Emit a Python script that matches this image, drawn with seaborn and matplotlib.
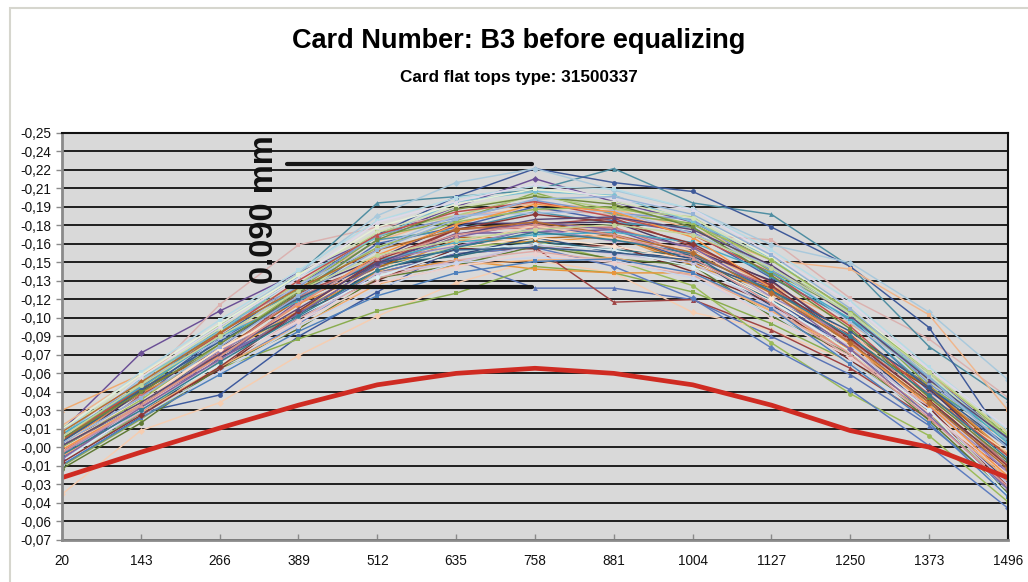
import numpy as np
import pandas as pd
import matplotlib.pyplot as plt
import seaborn as sns
from matplotlib.patches import Rectangle

# Posicoes medidas (eixo x) e rotulos do eixo y como aparecem no grafico
positions = [20, 143, 266, 389, 512, 635, 758, 881, 1004, 1127, 1250, 1373, 1496]
y_tick_labels = ['-0,07', '-0,06', '-0,04', '-0,03', '-0,01', '-0,00', '-0,01', '-0,03',
                 '-0,04', '-0,06', '-0,07', '-0,09', '-0,10', '-0,12', '-0,13', '-0,15',
                 '-0,16', '-0,18', '-0,19', '-0,21', '-0,22', '-0,24', '-0,25']

# Curva de referencia (vermelha)
reference = [-0.021, -0.001, 0.018, 0.036, 0.052, 0.061, 0.065, 0.061, 0.052, 0.036, 0.016, 0.003, -0.021]

# Faixa marcada (0.090 mm)
band_label = '0.090 mm'
band_x = [371, 753]
band_top = 0.2255
band_bottom = 0.129

# Perfis das tampas
p01 = [0.016, 0.077, 0.110, 0.140, 0.168, 0.192, 0.214, 0.196, 0.180, 0.150, 0.110, 0.060, 0.010]
p02 = [0.005, 0.052, 0.115, 0.162, 0.176, 0.185, 0.190, 0.186, 0.170, 0.166, 0.120, 0.088, 0.042]
p03 = [0.010, 0.050, 0.095, 0.139, 0.195, 0.200, 0.205, 0.222, 0.195, 0.186, 0.145, 0.082, 0.040]
p04 = [0.008, 0.045, 0.090, 0.130, 0.170, 0.200, 0.222, 0.211, 0.204, 0.176, 0.145, 0.097, 0.005]
p05 = [0.015, 0.055, 0.100, 0.140, 0.185, 0.211, 0.222, 0.205, 0.190, 0.162, 0.148, 0.109, 0.056]
p06 = [0.020, 0.060, 0.095, 0.130, 0.165, 0.185, 0.195, 0.190, 0.175, 0.150, 0.143, 0.107, 0.032]
p07 = [0.000, 0.035, 0.075, 0.105, 0.140, 0.150, 0.128, 0.128, 0.119, 0.090, 0.060, 0.020, -0.030]
p08 = [-0.012, 0.030, 0.044, 0.090, 0.125, 0.160, 0.175, 0.170, 0.150, 0.120, 0.080, 0.030, -0.020]
p09 = [-0.034, 0.016, 0.038, 0.075, 0.106, 0.132, 0.150, 0.140, 0.109, 0.095, 0.070, 0.030, -0.020]
p10 = [-0.012, 0.025, 0.065, 0.088, 0.110, 0.124, 0.145, 0.140, 0.125, 0.100, 0.070, 0.030, -0.030]
p11 = [0.000, 0.035, 0.070, 0.110, 0.140, 0.155, 0.160, 0.117, 0.119, 0.095, 0.065, 0.025, -0.015]
p12 = [-0.010, 0.030, 0.070, 0.110, 0.145, 0.160, 0.165, 0.150, 0.130, 0.085, 0.045, 0.012, -0.040]
p13 = [-0.005, 0.030, 0.065, 0.100, 0.140, 0.155, 0.160, 0.145, 0.120, 0.081, 0.048, 0.004, -0.045]
p14 = [0.012, 0.045, 0.075, 0.110, 0.140, 0.150, 0.143, 0.140, 0.140, 0.110, 0.080, 0.040, 0.010]
p15 = [0.032, 0.060, 0.090, 0.120, 0.150, 0.170, 0.180, 0.175, 0.160, 0.130, 0.100, 0.060, 0.015]
p16 = [0.005, 0.042, 0.088, 0.121, 0.163, 0.176, 0.192, 0.181, 0.172, 0.136, 0.104, 0.047, 0.003]
p17 = [-0.003, 0.044, 0.076, 0.124, 0.147, 0.174, 0.178, 0.183, 0.161, 0.133, 0.091, 0.052, -0.012]
p18 = [0.013, 0.047, 0.094, 0.127, 0.169, 0.181, 0.203, 0.186, 0.179, 0.141, 0.109, 0.051, 0.009]
p19 = [-0.007, 0.038, 0.071, 0.118, 0.146, 0.171, 0.172, 0.174, 0.153, 0.129, 0.084, 0.043, -0.018]
p20 = [0.014, 0.049, 0.096, 0.125, 0.166, 0.174, 0.188, 0.179, 0.176, 0.137, 0.103, 0.049, 0.011]
p21 = [0.006, 0.046, 0.074, 0.116, 0.141, 0.166, 0.164, 0.169, 0.146, 0.126, 0.086, 0.051, -0.002]
p22 = [-0.010, 0.027, 0.073, 0.104, 0.144, 0.154, 0.168, 0.156, 0.152, 0.114, 0.086, 0.031, -0.024]
p23 = [-0.004, 0.031, 0.064, 0.109, 0.134, 0.159, 0.159, 0.162, 0.141, 0.116, 0.071, 0.034, -0.028]
p24 = [-0.014, 0.022, 0.066, 0.096, 0.136, 0.146, 0.161, 0.151, 0.146, 0.106, 0.076, 0.024, -0.033]
p25 = [0.002, 0.047, 0.081, 0.126, 0.151, 0.179, 0.179, 0.180, 0.158, 0.134, 0.088, 0.049, -0.008]
p26 = [0.003, 0.036, 0.080, 0.107, 0.147, 0.153, 0.165, 0.158, 0.154, 0.118, 0.090, 0.038, -0.010]
p27 = [0.008, 0.049, 0.079, 0.119, 0.144, 0.168, 0.167, 0.170, 0.148, 0.128, 0.086, 0.050, -0.004]
p28 = [0.016, 0.051, 0.098, 0.129, 0.170, 0.183, 0.197, 0.187, 0.182, 0.142, 0.110, 0.053, 0.010]
p29 = [0.000, 0.043, 0.077, 0.121, 0.149, 0.175, 0.175, 0.176, 0.154, 0.130, 0.086, 0.045, -0.011]
p30 = [0.018, 0.053, 0.099, 0.131, 0.172, 0.185, 0.201, 0.190, 0.184, 0.144, 0.112, 0.055, 0.012]
p31 = [-0.002, 0.035, 0.079, 0.111, 0.150, 0.161, 0.175, 0.165, 0.160, 0.121, 0.090, 0.035, -0.016]
p32 = [0.012, 0.057, 0.094, 0.137, 0.168, 0.196, 0.204, 0.201, 0.180, 0.152, 0.106, 0.060, 0.008]
p33 = [-0.004, 0.030, 0.066, 0.098, 0.131, 0.146, 0.150, 0.152, 0.139, 0.110, 0.078, 0.030, -0.022]
p34 = [0.012, 0.055, 0.087, 0.131, 0.160, 0.185, 0.187, 0.189, 0.171, 0.145, 0.101, 0.057, 0.003]
p35 = [0.001, 0.034, 0.070, 0.104, 0.136, 0.150, 0.157, 0.149, 0.138, 0.112, 0.074, 0.036, -0.012]
p36 = [0.014, 0.058, 0.096, 0.139, 0.172, 0.192, 0.200, 0.196, 0.183, 0.150, 0.108, 0.060, 0.006]
p37 = [-0.006, 0.031, 0.072, 0.101, 0.140, 0.148, 0.162, 0.155, 0.148, 0.113, 0.082, 0.032, -0.026]
p38 = [0.015, 0.062, 0.103, 0.142, 0.181, 0.199, 0.208, 0.206, 0.190, 0.158, 0.118, 0.066, 0.016]
p39 = [0.006, 0.037, 0.081, 0.111, 0.151, 0.163, 0.177, 0.167, 0.159, 0.123, 0.093, 0.041, -0.001]
p40 = [-0.010, 0.028, 0.062, 0.098, 0.128, 0.148, 0.152, 0.150, 0.136, 0.108, 0.070, 0.028, -0.030]
p41 = [0.002, 0.036, 0.070, 0.102, 0.132, 0.145, 0.155, 0.148, 0.140, 0.104, 0.074, 0.030, -0.018]
p42 = [0.017, 0.060, 0.100, 0.138, 0.176, 0.194, 0.206, 0.200, 0.186, 0.152, 0.112, 0.062, 0.014]
p43 = [0.010, 0.058, 0.098, 0.136, 0.180, 0.196, 0.210, 0.198, 0.190, 0.155, 0.116, 0.064, 0.018]
p44 = [-0.008, 0.033, 0.068, 0.106, 0.137, 0.157, 0.163, 0.158, 0.145, 0.118, 0.078, 0.032, -0.035]
p45 = [0.007, 0.040, 0.080, 0.112, 0.143, 0.160, 0.168, 0.161, 0.150, 0.120, 0.084, 0.040, -0.006]
p46 = [-0.011, 0.026, 0.060, 0.094, 0.122, 0.140, 0.149, 0.151, 0.140, 0.112, 0.068, 0.022, -0.036]
p47 = [0.009, 0.050, 0.092, 0.134, 0.170, 0.188, 0.196, 0.184, 0.170, 0.140, 0.098, 0.044, -0.004]
p48 = [0.003, 0.040, 0.084, 0.126, 0.160, 0.180, 0.190, 0.192, 0.178, 0.150, 0.110, 0.062, 0.012]
p49 = [-0.006, 0.034, 0.072, 0.108, 0.146, 0.168, 0.180, 0.174, 0.160, 0.125, 0.080, 0.028, -0.030]
p50 = [0.013, 0.050, 0.090, 0.118, 0.150, 0.164, 0.170, 0.172, 0.164, 0.140, 0.104, 0.058, 0.006]
p51 = [0.001, 0.036, 0.075, 0.115, 0.154, 0.178, 0.194, 0.188, 0.168, 0.128, 0.084, 0.036, -0.020]
p52 = [0.007, 0.048, 0.086, 0.120, 0.148, 0.158, 0.160, 0.156, 0.150, 0.126, 0.094, 0.050, 0.004]
p53 = [-0.009, 0.028, 0.066, 0.110, 0.150, 0.174, 0.186, 0.180, 0.163, 0.130, 0.088, 0.040, -0.012]
p54 = [0.010, 0.046, 0.084, 0.124, 0.166, 0.190, 0.200, 0.194, 0.176, 0.138, 0.096, 0.042, -0.008]
p55 = [0.004, 0.038, 0.076, 0.112, 0.148, 0.170, 0.182, 0.184, 0.174, 0.146, 0.106, 0.056, 0.010]
p56 = [-0.003, 0.032, 0.070, 0.106, 0.142, 0.160, 0.172, 0.166, 0.155, 0.126, 0.090, 0.044, -0.006]
p57 = [0.015, 0.054, 0.093, 0.128, 0.158, 0.174, 0.180, 0.170, 0.156, 0.124, 0.085, 0.038, -0.014]
p58 = [0.006, 0.042, 0.082, 0.122, 0.158, 0.182, 0.198, 0.200, 0.186, 0.154, 0.112, 0.058, 0.002]
p59 = [-0.001, 0.036, 0.074, 0.116, 0.152, 0.170, 0.178, 0.170, 0.152, 0.116, 0.076, 0.026, -0.028]
p60 = [0.011, 0.052, 0.090, 0.126, 0.154, 0.166, 0.174, 0.178, 0.170, 0.144, 0.108, 0.062, 0.014]

profiles = [p01, p02, p03, p04, p05, p06, p07, p08, p09, p10, p11, p12, p13, p14, p15,
            p16, p17, p18, p19, p20, p21, p22, p23, p24, p25, p26, p27, p28, p29, p30,
            p31, p32, p33, p34, p35, p36, p37, p38, p39, p40, p41, p42, p43, p44, p45,
            p46, p47, p48, p49, p50, p51, p52, p53, p54, p55, p56, p57, p58, p59, p60]

# Cores no estilo do Excel
line_colors = ['#6b4f96', '#dbb2b0', '#4f8ea2', '#3f5a9a', '#a9c9dc', '#f0b68c', '#5a74b6',
               '#3d5a9e', '#f6cdb0', '#8aad4f', '#a04444', '#9bbb59', '#5c7cc0', '#e8963c',
               '#f0aa70',
               '#4a66ac', '#a84a48', '#8aae52', '#73589a', '#4b98ad', '#e08f3e',
               '#2d4b7a', '#7a2e2c', '#5f7a34', '#4d3a66', '#2e6b7c', '#b0621c',
               '#7f9bd0', '#cc7b79', '#b3cc82', '#9d88bd', '#7cc0d3', '#f3ad72',
               '#a9bde0', '#dfaaa8', '#d3e2b8', '#c9bedc', '#b5dbe6', '#f8cfae',
               '#c8d4ec', '#ecd0cf', '#e6efd6', '#dfd8ea', '#d8ecf1', '#fbe3cf',
               '#4f81bd', '#c0504d', '#9bbb59', '#8064a2', '#4bacc6', '#f79646',
               '#385d8a', '#8c3836', '#71893f', '#5c4776', '#357d91', '#b66d31',
               '#95b3d7', '#d99694', '#c3d69b']
marker_cycle = ['D', 's', '^', 'o']

# Monta tabela longa
rows = []
for i, prof in enumerate(profiles):
    for pos, val in zip(positions, prof):
        rows.append({'serie': f'S{i + 1:02d}', 'pos': pos, 'valor': val})
df = pd.DataFrame(rows)
df_ref = pd.DataFrame({'pos': positions, 'valor': reference})

sns.set_theme(style='white')
plt.rcParams['font.family'] = ['Liberation Sans', 'DejaVu Sans']

fig = plt.figure(figsize=(10.28, 5.82), dpi=100)
ax = fig.add_axes([0.0603, 0.0722, 0.9202, 0.6993])
ax.set_facecolor('#d9d9d9')

# Moldura do grafico
fig.patches.append(Rectangle((10 / 1028, -0.2), 1.2, 0.2 + (1 - 8 / 582), transform=fig.transFigure,
                             fill=False, edgecolor='#d6d6ce', linewidth=1.5))

sns.lineplot(data=df, x='pos', y='valor', hue='serie', style='serie',
             palette=line_colors, markers=[marker_cycle[i % 4] for i in range(len(profiles))],
             dashes=False, linewidth=1.05, markersize=3.5, markeredgewidth=0,
             legend=False, sort=False, errorbar=None, ax=ax)

sns.lineplot(data=df_ref, x='pos', y='valor', color='#cf2b22', linewidth=3.4,
             legend=False, errorbar=None, ax=ax)

# Linhas da faixa
for level in [band_top, band_bottom]:
    ax.plot(band_x, [level, level], color='#161616', linewidth=3.0, solid_capstyle='round', zorder=5)
ax.text(0.214, 0.811, band_label, transform=ax.transAxes, rotation=90, ha='center', va='center',
        fontsize=23.5, fontweight='bold', color='#111111', zorder=6)

# Eixos
ax.set_xlim(positions[0], positions[-1])
ax.set_ylim(-0.07, 0.25)
ax.set_xticks(positions)
ax.set_xticklabels([str(p) for p in positions])
ax.set_yticks(np.linspace(-0.07, 0.25, len(y_tick_labels)))
ax.set_yticklabels(y_tick_labels)
ax.set_xlabel('')
ax.set_ylabel('')
ax.yaxis.grid(True, color='#1e1e1e', linewidth=1.4)
ax.xaxis.grid(False)
ax.set_axisbelow(True)

ax.tick_params(axis='y', direction='out', length=4, width=1, color='#8a8a8a', labelsize=9.8,
               labelcolor='#111111', pad=4, left=True)
ax.tick_params(axis='x', direction='in', length=4, width=1, color='#8a8a8a', labelsize=9.8,
               labelcolor='#111111', pad=10, bottom=True)

for side in ['left', 'bottom']:
    ax.spines[side].set_color('#8a8a8a')
    ax.spines[side].set_linewidth(2.0)
for side in ['top', 'right']:
    ax.spines[side].set_color('#111111')
    ax.spines[side].set_linewidth(1.5)

fig.text(0.505, 0.929, 'Card Number: B3 before equalizing', ha='center', va='center',
         fontsize=19.5, fontweight='bold', color='#000000')
fig.text(0.505, 0.867, 'Card flat tops type: 31500337', ha='center', va='center',
         fontsize=12.3, fontweight='bold', color='#000000')

plt.savefig('out.png', dpi=100)
